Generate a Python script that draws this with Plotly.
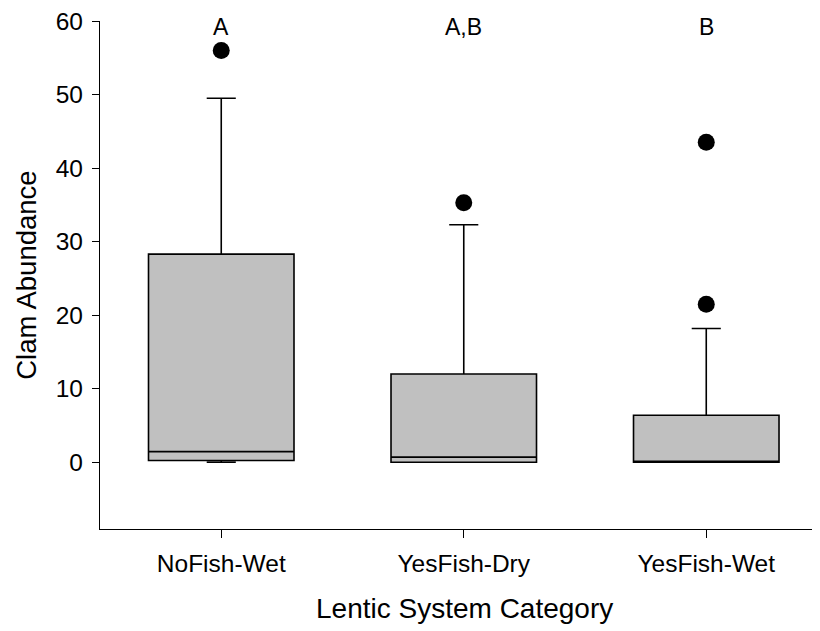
import plotly.graph_objects as go

categories = ["NoFish-Wet", "YesFish-Dry", "YesFish-Wet"]
q1 = [0.25, 0.0, 0.0]
median = [1.45, 0.7, 0.0]
q3 = [28.3, 12.0, 6.4]
lower_whisker = [0.0, 0.0, 0.0]
upper_whisker = [49.5, 32.3, 18.2]
outlier_cats = ["NoFish-Wet", "YesFish-Dry", "YesFish-Wet", "YesFish-Wet"]
outlier_vals = [56.0, 35.3, 43.5, 21.5]
group_letters = ["A", "A,B", "B"]
y_ticks = [0, 10, 20, 30, 40, 50, 60]

FONT = "Liberation Sans, Arial, sans-serif"

fig = go.Figure()
fig.add_trace(go.Box(
    x=categories, q1=q1, median=median, q3=q3,
    lowerfence=lower_whisker, upperfence=upper_whisker,
    boxpoints=False, fillcolor="#c0c0c0",
    line=dict(color="black", width=1.6),
    width=0.6, whiskerwidth=0.2, showlegend=False, hoverinfo="skip",
))
fig.add_trace(go.Scatter(
    x=outlier_cats, y=outlier_vals, mode="markers",
    marker=dict(color="black", size=17, line=dict(width=0)),
    showlegend=False, hoverinfo="skip",
))
for c, t in zip(categories, group_letters):
    fig.add_annotation(x=c, y=59.2, xref="x", yref="y", text=t, showarrow=False,
                       font=dict(family=FONT, size=23, color="black"),
                       yanchor="middle", xanchor="center")

fig.add_annotation(x=-0.103, y=0.5, xref="paper", yref="paper", text="Clam Abundance",
                   showarrow=False, textangle=-90, xanchor="center", yanchor="middle",
                   borderpad=0,
                   font=dict(family=FONT, size=27.5, color="black"))
fig.add_annotation(x=0.5056, y=0, xref="paper", yref="paper", text="Lentic System Category",
                   showarrow=False, xanchor="center", yanchor="middle", yshift=-79,
                   font=dict(family=FONT, size=28, color="black"))

fig.update_layout(
    width=812, height=623,
    margin=dict(l=92, r=0, t=11, b=102),
    plot_bgcolor="white", paper_bgcolor="white",
    font=dict(family=FONT, size=22, color="black"),
    xaxis=dict(
        type="category", categoryorder="array", categoryarray=categories,
        range=[-0.5, 2.469], showline=True, linecolor="black", linewidth=1.3,
        ticks="outside", ticklen=8, tickcolor="black", tickwidth=1.3,
        showgrid=False, zeroline=False, tickfont=dict(size=24.5),
        ticklabelstandoff=4, ticklabeloverflow="allow",
    ),
    yaxis=dict(
        range=[-9.07, 60], tickvals=y_ticks, showline=True, linecolor="black",
        linewidth=1.3, ticks="outside", ticklen=7, tickcolor="black", tickwidth=1.3,
        showgrid=False, zeroline=False, tickfont=dict(size=24.5),
        ticklabelstandoff=4, ticklabeloverflow="allow",
    ),
)
fig.write_html("out.html")
